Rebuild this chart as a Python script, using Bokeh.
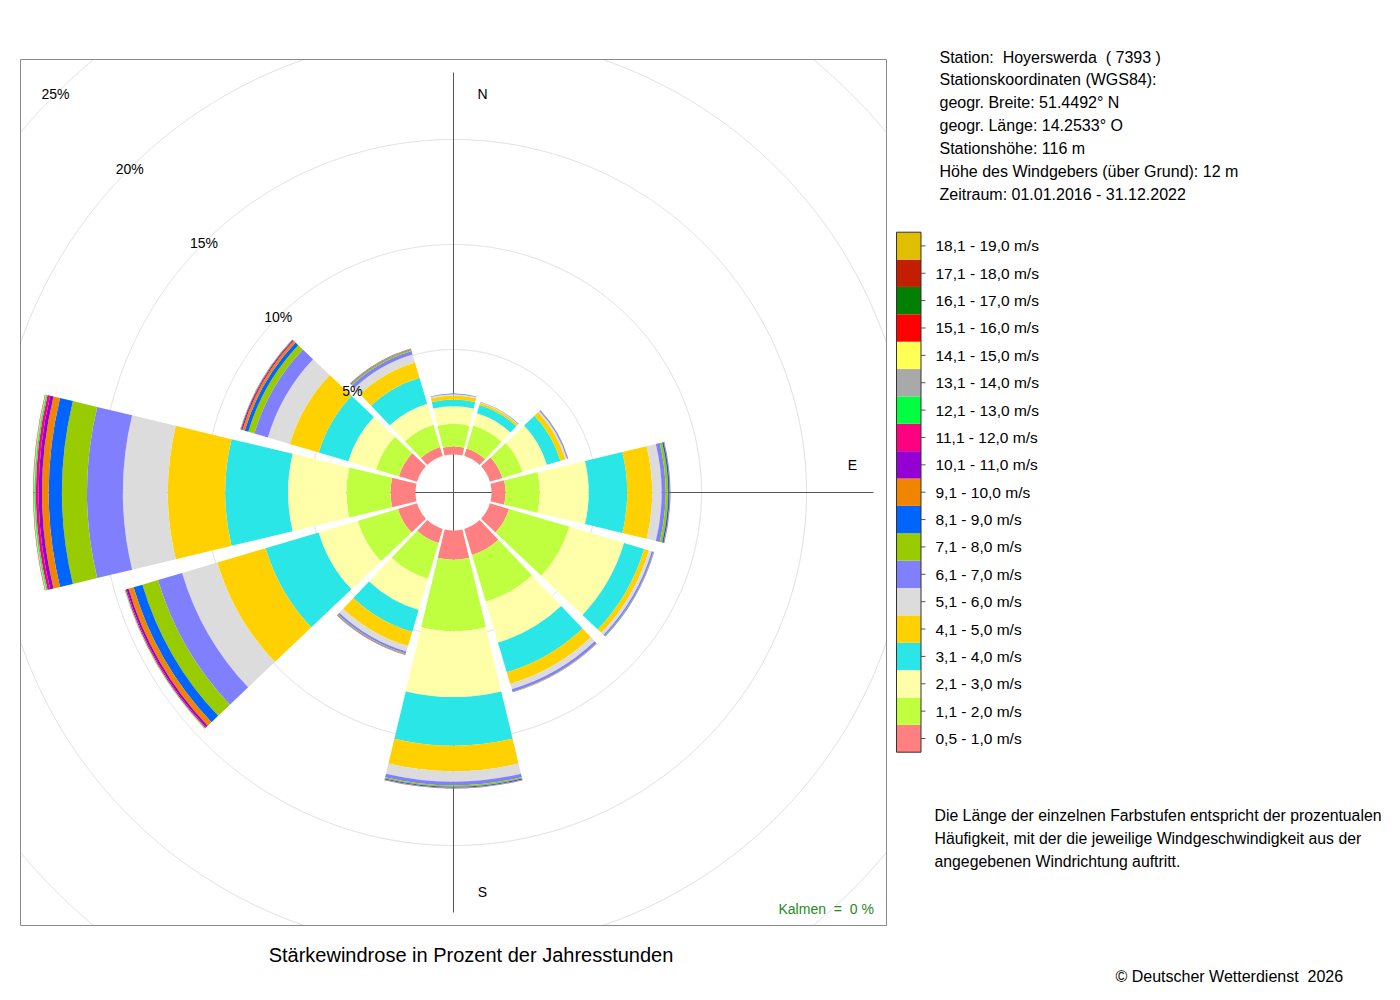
import numpy as np
from bokeh.plotting import figure
from bokeh.models import ColumnDataSource, Range1d
from bokeh.embed import file_html
from bokeh.resources import INLINE
from bokeh.core.properties import value

# ---------------- data ----------------
directions = ["N", "NNO", "ONO", "O", "OSO", "SSO", "S", "SSW", "WSW", "W", "WNW", "NNW"]
bearings = [0, 30, 60, 90, 120, 150, 180, 210, 240, 270, 300, 330]

speed_labels = [
    "0,5 - 1,0 m/s", "1,1 - 2,0 m/s", "2,1 - 3,0 m/s", "3,1 - 4,0 m/s",
    "4,1 - 5,0 m/s", "5,1 - 6,0 m/s", "6,1 - 7,0 m/s", "7,1 - 8,0 m/s",
    "8,1 - 9,0 m/s", "9,1 - 10,0 m/s", "10,1 - 11,0 m/s", "11,1 - 12,0 m/s",
    "12,1 - 13,0 m/s", "13,1 - 14,0 m/s", "14,1 - 15,0 m/s", "15,1 - 16,0 m/s",
    "16,1 - 17,0 m/s", "17,1 - 18,0 m/s", "18,1 - 19,0 m/s",
]
speed_colors = [
    "#FF8080", "#BFFF3F", "#FFFFAA", "#2AE6E6", "#FFD100", "#DCDCDC",
    "#8080FF", "#99CC00", "#0064FF", "#F28500", "#9400D3", "#FF0080",
    "#00FF40", "#A9A9A9", "#FFFF55", "#FF0000", "#007F00", "#C41E00", "#E0BE00",
]

# percent of hours, per direction (N, NNO, ONO, O, OSO, SSO, S, SSW, WSW, W, WNW, NNW)
v_05_10 = [0.38, 0.37, 0.62, 0.67, 0.95, 1.29, 1.39, 0.70, 0.95, 1.19, 0.90, 0.45]
v_11_20 = [1.08, 1.15, 1.00, 1.63, 3.00, 2.33, 3.40, 1.78, 2.00, 2.10, 1.14, 1.10]
v_21_30 = [0.84, 0.61, 1.21, 2.33, 2.71, 2.02, 3.14, 1.55, 1.94, 2.78, 1.38, 1.05]
v_31_40 = [0.32, 0.41, 0.67, 1.83, 1.00, 1.48, 2.32, 1.09, 2.63, 2.99, 1.46, 1.29]
v_41_50 = [0.19, 0.10, 0.25, 1.19, 0.24, 0.58, 1.21, 0.70, 2.40, 2.73, 1.44, 0.76]
v_51_60 = [0.06, 0.03, 0.08, 0.45, 0.14, 0.26, 0.50, 0.27, 1.75, 2.14, 1.09, 0.40]
v_61_70 = [0.02, 0.02, 0.05, 0.19, 0.08, 0.12, 0.17, 0.10, 1.20, 1.71, 0.67, 0.17]
v_71_80 = [0.005, 0.005, 0.01, 0.12, 0.02, 0.02, 0.07, 0.03, 0.77, 1.19, 0.30, 0.06]
v_81_90 = [0.002, 0.002, 0.005, 0.07, 0.01, 0.01, 0.05, 0.02, 0.44, 0.63, 0.18, 0.03]
v_91_100 = [0.0, 0.0, 0.002, 0.02, 0.005, 0.005, 0.02, 0.01, 0.25, 0.32, 0.12, 0.02]
v_101_110 = [0.0, 0.0, 0.0, 0.01, 0.002, 0.002, 0.01, 0.005, 0.10, 0.16, 0.05, 0.01]
v_111_120 = [0.0, 0.0, 0.0, 0.005, 0.0, 0.0, 0.005, 0.002, 0.05, 0.13, 0.03, 0.005]
v_121_130 = [0.0, 0.0, 0.0, 0.002, 0.0, 0.0, 0.002, 0.0, 0.03, 0.06, 0.02, 0.002]
v_131_140 = [0.0, 0.0, 0.0, 0.0, 0.0, 0.0, 0.0, 0.0, 0.01, 0.03, 0.005, 0.0]
v_141_150 = [0.0, 0.0, 0.0, 0.0, 0.0, 0.0, 0.0, 0.0, 0.005, 0.02, 0.003, 0.0]
v_151_160 = [0.0, 0.0, 0.0, 0.0, 0.0, 0.0, 0.0, 0.0, 0.003, 0.015, 0.002, 0.0]
v_161_170 = [0.0, 0.0, 0.0, 0.0, 0.0, 0.0, 0.0, 0.0, 0.001, 0.005, 0.0, 0.0]
v_171_180 = [0.0, 0.0, 0.0, 0.0, 0.0, 0.0, 0.0, 0.0, 0.0, 0.003, 0.0, 0.0]
v_181_190 = [0.0, 0.0, 0.0, 0.0, 0.0, 0.0, 0.0, 0.0, 0.0, 0.002, 0.0, 0.0]

ring_pcts = [5, 10, 15, 20, 25]
ring_labels = ["5%", "10%", "15%", "20%", "25%"]

NB = "\u00a0"
station_lines = [
    "Station:" + NB + " Hoyerswerda" + NB + " ( 7393 )",
    "Stationskoordinaten (WGS84):",
    "geogr. Breite: 51.4492\u00b0 N",
    "geogr. L\u00e4nge: 14.2533\u00b0 O",
    "Stationsh\u00f6he: 116 m",
    "H\u00f6he des Windgebers (\u00fcber Grund): 12 m",
    "Zeitraum: 01.01.2016 - 31.12.2022",
]
note_lines = [
    "Die L\u00e4nge der einzelnen Farbstufen entspricht der prozentualen",
    "H\u00e4ufigkeit, mit der die jeweilige Windgeschwindigkeit aus der",
    "angegebenen Windrichtung auftritt.",
]
title_text = "St\u00e4rkewindrose in Prozent der Jahresstunden"
copyright_text = "\u00a9 Deutscher Wetterdienst" + NB + " 2026"
calm_text = "Kalmen" + NB + " =" + NB + " 0 %"

classes = [v_05_10, v_11_20, v_21_30, v_31_40, v_41_50, v_51_60, v_61_70,
           v_71_80, v_81_90, v_91_100, v_101_110, v_111_120, v_121_130,
           v_131_140, v_141_150, v_151_160, v_161_170, v_171_180, v_181_190]

# ---------------- layout ----------------
FONT = value("Liberation Sans")
W_PX, H_PX = 1384, 984


def sy(y):
    """screen y (from top) -> data y (upwards)"""
    return H_PX - np.asarray(y, dtype=float)


CX, CY = 453.0, float(sy(492))
HOLE, SCALE = 38.0, 21.0      # px for 0 %, px per percent
HALF = 13.5                   # half sector width in degrees


def rad(pct):
    return HOLE + SCALE * np.asarray(pct, dtype=float)


p = figure(width=W_PX, height=H_PX,
           x_range=Range1d(0, W_PX), y_range=Range1d(0, H_PX),
           output_backend="svg", toolbar_location=None,
           x_axis_location=None, y_axis_location=None, min_border=0)
p.xgrid.visible = False
p.ygrid.visible = False
p.outline_line_color = None
p.background_fill_color = "white"
p.border_fill_color = "white"

# panel
PL, PR, PT, PB = 20, 886, 59, 925
yb, yt = float(sy(PB)), float(sy(PT))

# grid rings, clipped to the panel (NaN breaks the line outside)
rr = rad(ring_pcts)
th = np.linspace(0, 2 * np.pi, 3601)
for r in rr:
    xs = CX + r * np.sin(th)
    ys = CY + r * np.cos(th)
    outside = (xs < PL) | (xs > PR) | (ys < yb) | (ys > yt)
    xs = np.where(outside, np.nan, xs)
    ys = np.where(outside, np.nan, ys)
    p.line(x=xs, y=ys, line_color="#DCDCDC", line_width=1)

p.quad(left=[PL], right=[PR], top=[yt], bottom=[yb],
       fill_color=None, line_color="#8A8A8A", line_width=1)

# axis cross
AX = 420
p.segment(x0=[CX] * 4, y0=[CY] * 4,
          x1=[CX, CX + AX, CX, CX - AX], y1=[CY + AX, CY, CY - AX, CY],
          line_color="#555555", line_width=1)

# wedges
vals = np.array(classes, dtype=float)
cum = np.cumsum(vals, axis=0)
rows = dict(inner=[], outer=[], start=[], end=[], color=[])
for k in range(vals.shape[0]):
    for d in range(vals.shape[1]):
        if vals[k, d] <= 0:
            continue
        a = 90.0 - bearings[d]
        rows["inner"].append(float(rad(cum[k, d] - vals[k, d])))
        rows["outer"].append(float(rad(cum[k, d])))
        rows["start"].append(np.deg2rad(a - HALF))
        rows["end"].append(np.deg2rad(a + HALF))
        rows["color"].append(speed_colors[k])
n = len(rows["inner"])
rows["x"] = [CX] * n
rows["y"] = [CY] * n
p.annular_wedge(x="x", y="y", inner_radius="inner", outer_radius="outer",
                start_angle="start", end_angle="end", fill_color="color",
                line_color=None, direction="anticlock",
                source=ColumnDataSource(rows))


def txt(xs, ys_screen, texts, size, align="left", color="black"):
    p.text(x=list(xs), y=list(sy(ys_screen)), text=list(texts), text_font=FONT,
           text_font_size=size, text_align=align, text_baseline="alphabetic",
           text_color=color)


# ring labels along NW diagonal
c45 = np.cos(np.deg2rad(45))
txt(CX - rr * c45, 492 - rr * c45, ring_labels, "14px", "center")

# compass labels
txt([CX + 29, CX + 399, CX + 29], [492 - 399, 492 - 28, 492 + 399],
    ["N", "E", "S"], "14px", "center")

# calm
txt([778], [908.5], [calm_text], "14px", "left", "#228B22")

# title & copyright
txt([470.5], [954.5], [title_text], "20px", "center")
txt([1115], [975.5], [copyright_text], "16px", "left")

# station info
txt([939] * len(station_lines), [56.5 + 22.9 * i for i in range(len(station_lines))],
    station_lines, "16px")

# note
txt([934] * len(note_lines), [815 + 23 * i for i in range(len(note_lines))],
    note_lines, "15.8px")

# legend colour bar
LB_L, LB_R, LB_T, LB_B = 896.0, 920.5, 231.7, 751.7
nc = len(speed_labels)
step = (LB_B - LB_T) / nc
tops = [LB_B - step * (i + 1) for i in range(nc)]     # class 0 at bottom
bots = [LB_B - step * i for i in range(nc)]
p.quad(left=[LB_L] * nc, right=[LB_R] * nc, top=list(sy(tops)), bottom=list(sy(bots)),
       fill_color=speed_colors, line_color=None)
p.quad(left=[LB_L], right=[LB_R], top=[float(sy(LB_T))], bottom=[float(sy(LB_B))],
       fill_color=None, line_color="#333333", line_width=1)
mids = [(t + b) / 2 for t, b in zip(tops, bots)]
p.segment(x0=[LB_R] * nc, y0=list(sy(mids)), x1=[LB_R + 4.5] * nc, y1=list(sy(mids)),
          line_color="#555555", line_width=1)
txt([935] * nc, mids, speed_labels, "15.5px")

open("out.html", "w").write(file_html(p, INLINE))
